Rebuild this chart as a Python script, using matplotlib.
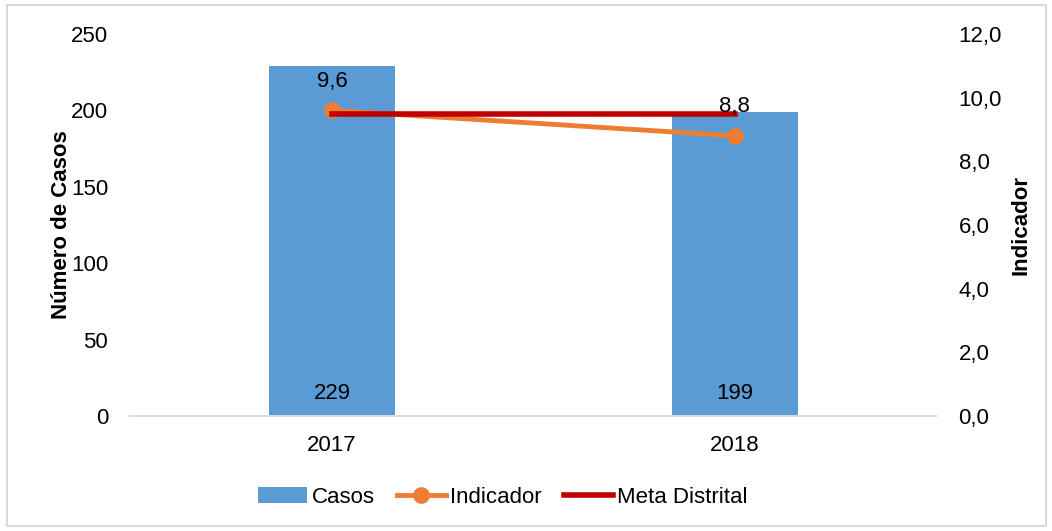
import matplotlib.pyplot as plt
from matplotlib.ticker import FuncFormatter
from matplotlib.patches import Rectangle

plt.rcParams['font.family'] = ['Liberation Sans Narrow', 'Liberation Sans', 'DejaVu Sans']

# Data
years = ['2017', '2018']
casos = [229, 199]
indicador = [9.6, 8.8]
meta = [9.5, 9.5]

bar_color = '#5B9BD5'
line_color = '#ED7D31'
meta_color = '#C00000'

fig = plt.figure(figsize=(10.52, 5.31), dpi=100)
ax = fig.add_axes([0.124, 0.2166, 0.766, 0.7194])
ax2 = ax.twinx()

x = range(len(years))
bars = ax.bar(x, casos, width=0.313, color=bar_color, label='Casos', zorder=1)
ax.set_xlim(-0.5, 1.5)
ax.set_ylim(0, 250)
ax.set_yticks(range(0, 251, 50))
ax.set_xticks(list(x))
ax.set_xticklabels(years)

# bar value labels near the bottom
for xi, v in zip(x, casos):
    ax.text(xi, 15, str(v), ha='center', va='center', fontsize=16)

ax2.plot(x, indicador, color=line_color, lw=3.5, marker='o', ms=11, label='Indicador', zorder=3)
ax2.plot(x, meta, color=meta_color, lw=4, label='Meta Distrital', zorder=4)
ax2.set_ylim(0, 12)
ax2.set_yticks([0, 2, 4, 6, 8, 10, 12])
ax2.yaxis.set_major_formatter(FuncFormatter(lambda v, p: f'{v:.1f}'.replace('.', ',')))

for xi, v in zip(x, indicador):
    ax2.annotate(f'{v:.1f}'.replace('.', ','), (xi, v), xytext=(0, 21), textcoords='offset points',
                 ha='center', va='center', fontsize=16, zorder=5)

for a in (ax, ax2):
    for s in ['top', 'left', 'right', 'bottom']:
        a.spines[s].set_visible(False)
    a.tick_params(length=0, labelsize=16)
ax.spines['bottom'].set_visible(True)
ax.spines['bottom'].set_color('#D9D9D9')
ax.spines['bottom'].set_linewidth(1.5)
ax.tick_params(axis='y', pad=16)
ax.tick_params(axis='x', pad=14)
ax2.tick_params(axis='y', pad=16)

ax.set_ylabel('Número de Casos', fontsize=16, fontweight='bold', labelpad=-1)
ax2.set_ylabel('Indicador', fontsize=16, fontweight='bold', labelpad=6)

h1, l1 = ax.get_legend_handles_labels()
h2, l2 = ax2.get_legend_handles_labels()
fig.legend(h1 + h2, l1 + l2, loc='center', bbox_to_anchor=(0.478, 0.063), ncol=3, frameon=False,
           fontsize=16, handlelength=2.2, handletextpad=0.2, columnspacing=1.0)

fig.patches.append(Rectangle((0.007, 0.009), 0.987, 0.982, transform=fig.transFigure,
                             fill=False, edgecolor='#D9D9D9', lw=1.5))

fig.savefig('out.png', dpi=100)
